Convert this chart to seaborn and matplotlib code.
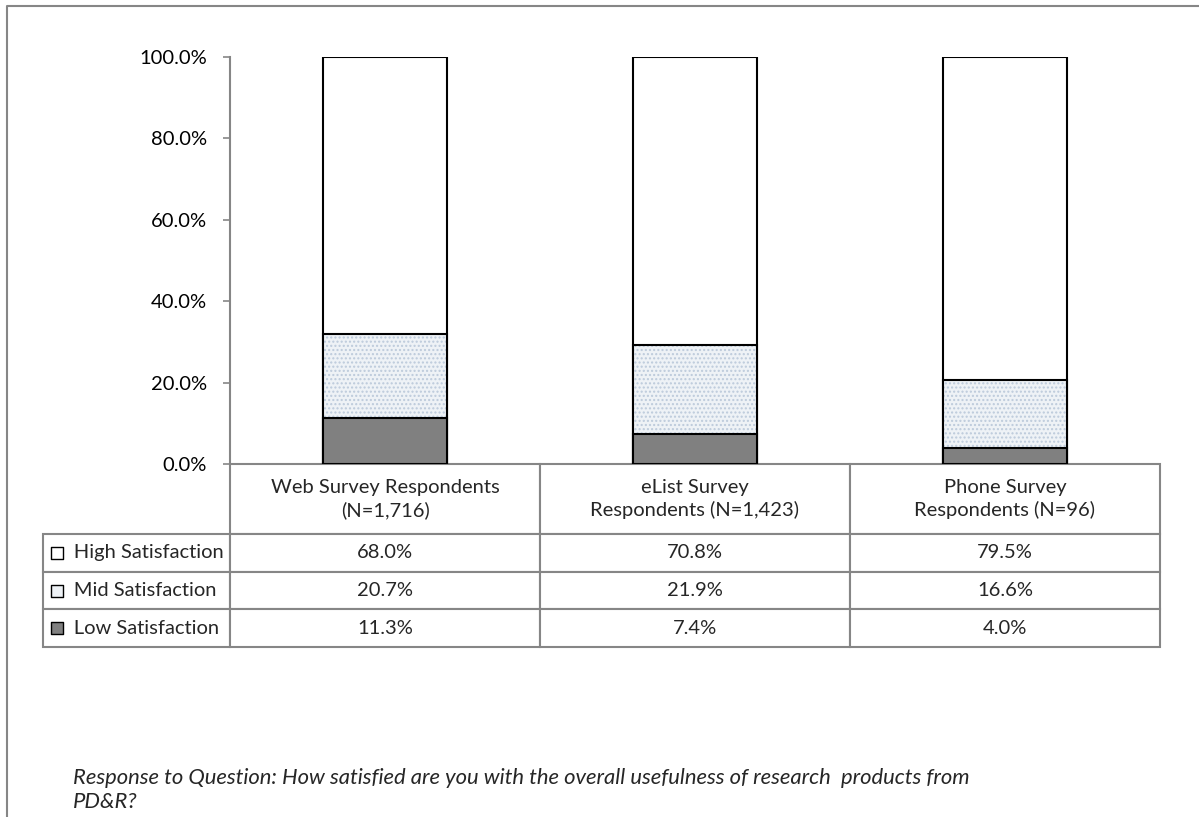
import numpy as np
import pandas as pd
import seaborn as sns
import matplotlib.pyplot as plt
from matplotlib.lines import Line2D
from matplotlib.ticker import FuncFormatter

# ------------------- DATA -------------------

groups = ["Web Survey Respondents\n(N=1,716)",
          "eList Survey\nRespondents (N=1,423)",
          "Phone Survey\nRespondents (N=96)"]
levels = ["High Satisfaction", "Mid Satisfaction", "Low Satisfaction"]
high = [68.0, 70.8, 79.5]
mid = [20.7, 21.9, 16.6]
low = [11.3, 7.4, 4.0]

df = pd.DataFrame({"group": groups, "High": high, "Mid": mid, "Low": low})
df["cum_low"] = df["Low"]
df["cum_mid"] = df["Low"] + df["Mid"]
df["cum_high"] = df["cum_mid"] + df["High"]

# ------------------- STYLE -------------------

sns.set_style("white")
plt.rcParams["font.family"] = ["Lato", "DejaVu Sans"]
FS = 14.5
GRID = "#868686"
MID_FACE = "#eef2f6"
MID_DOTS = "#bccadb"
LOW_FACE = "#808080"

fig = plt.figure(figsize=(11.99, 8.17), dpi=100)
ax = fig.add_axes([230 / 1199, 1 - 464 / 817, 930 / 1199, 407 / 817])

bar_kw = dict(width=0.4, saturation=1, errorbar=None, ax=ax)

# stacked bars: draw cumulative totals from the top down
sns.barplot(data=df, x="group", y="cum_high", color="white",
            edgecolor="black", linewidth=1.5, **bar_kw)
sns.barplot(data=df, x="group", y="cum_mid", color=MID_FACE,
            edgecolor=MID_DOTS, linewidth=0, hatch="....", **bar_kw)
sns.barplot(data=df, x="group", y="cum_mid", fill=False,
            edgecolor="black", linewidth=1.5, **bar_kw)
sns.barplot(data=df, x="group", y="cum_low", color=LOW_FACE,
            edgecolor="black", linewidth=1.5, **bar_kw)

ax.set_ylim(0, 100)
ax.set_xlim(-0.5, 2.5)
ax.set_yticks(np.arange(0, 101, 20))
ax.yaxis.set_major_formatter(FuncFormatter(lambda v, p: f"{v:.1f}%"))
ax.set_xticks([])
ax.set_xlabel("")
ax.set_ylabel("")
for s in ["top", "right", "bottom"]:
    ax.spines[s].set_visible(False)
ax.spines["left"].set_color(GRID)
ax.spines["left"].set_linewidth(1.5)
ax.tick_params(axis="y", left=True, length=5, width=1.2, color=GRID,
               pad=11.5, labelsize=FS, labelcolor="black")

# ------------------- DATA TABLE -------------------

label_pad = "      "
cell_text = [[label_pad + lvl] + [f"{v:.1f}%" for v in vals]
             for lvl, vals in zip(levels, [high, mid, low])]
header = [""] + groups
header_h, row_h = 70, 37.7
label_w, col_w = 187, 310
tab_h = (header_h + 3 * row_h) / 407
tab_l = label_w / 930

tab = ax.table(cellText=[header] + cell_text, cellLoc="center",
               bbox=[-tab_l, -tab_h, 1 + tab_l, tab_h])
tab.auto_set_font_size(False)
tab.set_fontsize(FS)
for (r, c), cell in tab.get_celld().items():
    cell.set_edgecolor(GRID)
    cell.set_linewidth(1.5)
    cell.set_width(label_w if c == 0 else col_w)
    cell.set_height(header_h if r == 0 else row_h)
    cell.get_text().set_linespacing(1.3)
    if c == 0:
        cell.get_text().set_horizontalalignment("left")
        cell.PAD = 0.0
        if r == 0:
            cell.set_visible(False)

# legend keys inside the row-label cells
key_colors = ["white", MID_FACE, LOW_FACE]
for i, col in enumerate(key_colors):
    yc = -(header_h + (i + 0.5) * row_h) / 407
    ax.scatter([-173 / 930], [yc], marker="s", s=70, color=col,
               edgecolor="black", linewidth=1, transform=ax.transAxes,
               clip_on=False, zorder=5)

# ------------------- FOOTNOTE / FRAME -------------------

fig.text(73 / 1199, 1 - 790 / 817,
         "Response to Question: How satisfied are you with the overall usefulness of research  products from\nPD&R?",
         fontsize=15.8, style="italic", va="center", ha="left", linespacing=1.3)

fig.add_artist(Line2D([7 / 1199, 7 / 1199, 1.01], [-0.01, 1 - 6 / 817, 1 - 6 / 817],
                      color=GRID, linewidth=1.5, transform=fig.transFigure))

fig.savefig("out.png", dpi=100)
